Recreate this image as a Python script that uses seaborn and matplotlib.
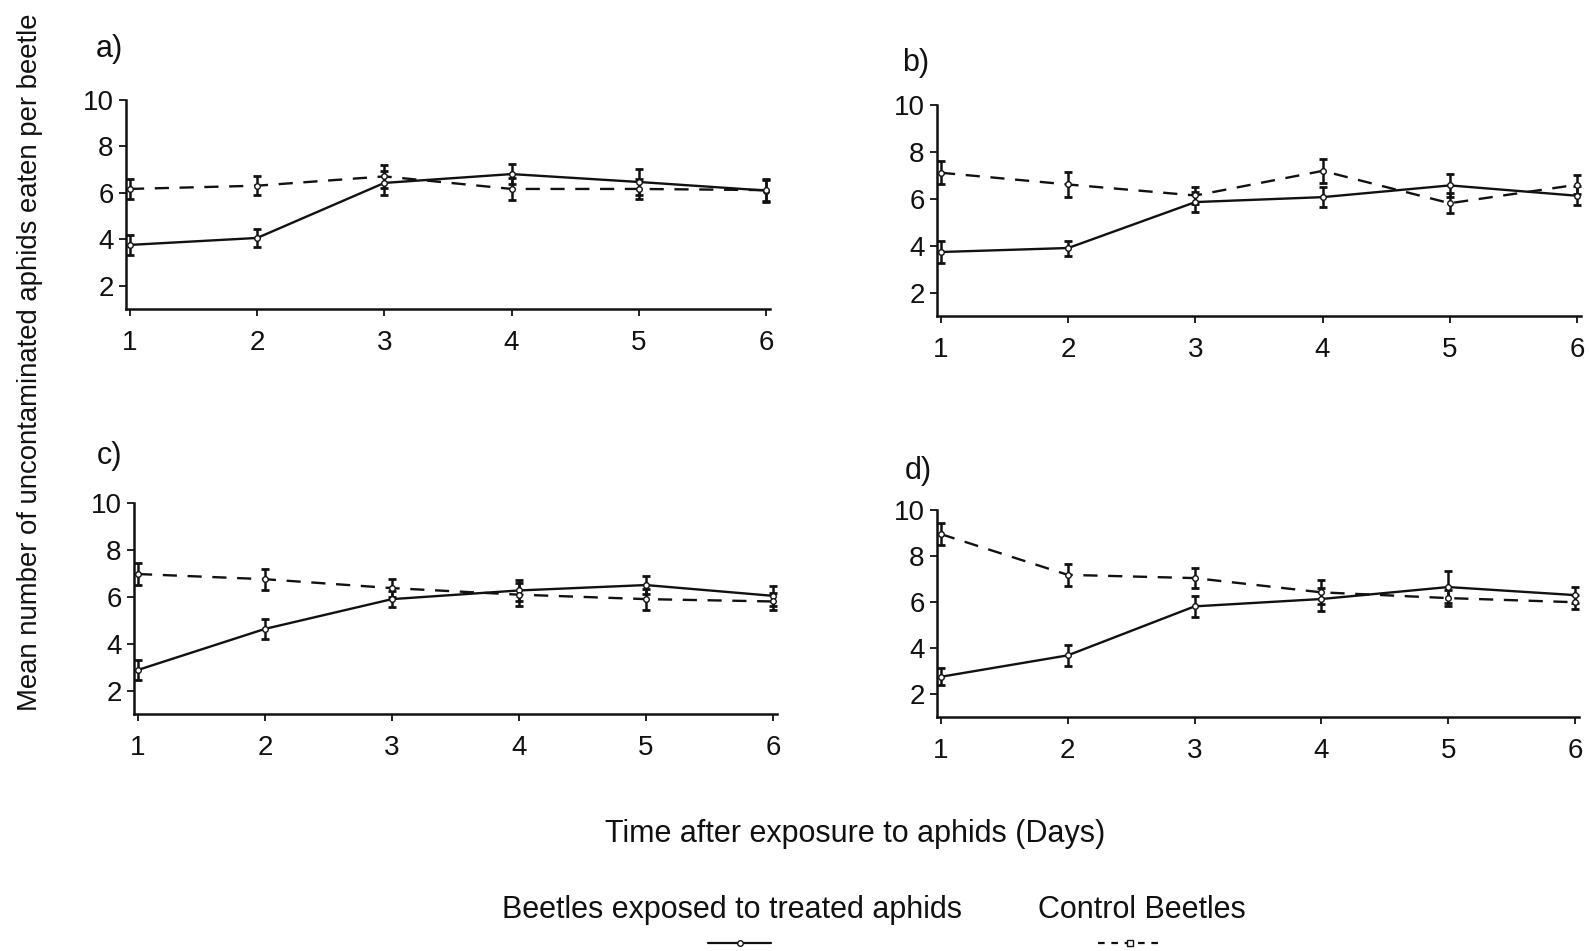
import numpy as np
import pandas as pd
import matplotlib
matplotlib.use("Agg")
import matplotlib.pyplot as plt
import seaborn as sns
from matplotlib.lines import Line2D

# ---------------- data ----------------
days = [1, 2, 3, 4, 5, 6]
panel_labels = ["a)", "b)", "c)", "d)"]
groups = ["Beetles exposed to treated aphids", "Control Beetles"]

treated_a = [3.76, 4.06, 6.43, 6.81, 6.47, 6.10]
treated_a_err = [0.42, 0.38, 0.50, 0.42, 0.55, 0.50]
control_a = [6.17, 6.31, 6.71, 6.17, 6.17, 6.12]
control_a_err = [0.42, 0.42, 0.50, 0.48, 0.43, 0.45]

treated_b = [3.73, 3.90, 5.86, 6.07, 6.57, 6.13]
treated_b_err = [0.46, 0.32, 0.43, 0.43, 0.48, 0.40]
control_b = [7.11, 6.61, 6.14, 7.19, 5.81, 6.60]
control_b_err = [0.50, 0.54, 0.35, 0.50, 0.43, 0.40]

treated_c = [2.88, 4.63, 5.90, 6.27, 6.50, 6.04]
treated_c_err = [0.43, 0.43, 0.35, 0.45, 0.40, 0.43]
control_c = [6.97, 6.75, 6.37, 6.09, 5.90, 5.80]
control_c_err = [0.45, 0.45, 0.40, 0.50, 0.45, 0.36]

treated_d = [2.75, 3.68, 5.81, 6.13, 6.65, 6.30]
treated_d_err = [0.37, 0.45, 0.45, 0.50, 0.68, 0.35]
control_d = [8.95, 7.18, 7.04, 6.42, 6.17, 5.99]
control_d_err = [0.49, 0.48, 0.43, 0.52, 0.35, 0.30]

treated_all = [treated_a, treated_b, treated_c, treated_d]
treated_err_all = [treated_a_err, treated_b_err, treated_c_err, treated_d_err]
control_all = [control_a, control_b, control_c, control_d]
control_err_all = [control_a_err, control_b_err, control_c_err, control_d_err]

x_ticks = [1, 2, 3, 4, 5, 6]
y_ticks = [2, 4, 6, 8, 10]

# ---------------- style ----------------
sns.set_theme(style="ticks")
plt.rcParams['font.family'] = ['Liberation Sans', 'DejaVu Sans']
FS_TICK = 20
FS_LAB = 22
FS_YLAB = 19.8
INK = "#111111"

W, H = 1590, 951
fig = plt.figure(figsize=(W / 100, H / 100), dpi=100)

# panel boxes in pixels: (tick1_x, tick6_x, top_y(10), bottom_y(1))
boxes = [(130, 766, 100, 309), (941, 1577, 105, 316),
         (138, 773, 503, 714), (941, 1575, 510, 717)]
label_pos = [(96, 49), (902, 63), (97, 456), (905, 471)]
xlo, xhi = 0.97, 6.03

for i, (t1, t6, top, bot) in enumerate(boxes):
    ppu = (t6 - t1) / 5.0
    left = t1 - (1 - xlo) * ppu
    width = (xhi - xlo) * ppu
    ax = fig.add_axes([left / W, 1 - bot / H, width / W, (bot - top) / H])

    df = pd.DataFrame({
        "day": days * 2,
        "value": treated_all[i] + control_all[i],
        "group": [groups[0]] * 6 + [groups[1]] * 6,
    })
    sns.lineplot(data=df, x="day", y="value", style="group",
                 dashes={groups[0]: "", groups[1]: (6, 4.5)},
                 markers={groups[0]: "o", groups[1]: "o"},
                 color=INK, linewidth=1.7, markersize=4,
                 markerfacecolor="white", markeredgecolor=INK,
                 markeredgewidth=1.0, legend=False, ax=ax, zorder=3)
    ax.errorbar(days, treated_all[i], yerr=treated_err_all[i], fmt="none",
                ecolor=INK, elinewidth=1.8, capsize=3, capthick=2, zorder=2)
    ax.errorbar(days, control_all[i], yerr=control_err_all[i], fmt="none",
                ecolor=INK, elinewidth=1.8, capsize=3, capthick=2, zorder=2)

    ax.set_xlim(xlo, xhi)
    ax.set_ylim(1, 10)
    ax.set_xticks(x_ticks)
    ax.set_yticks(y_ticks)
    ax.set_xticklabels([str(v) for v in x_ticks])
    ax.set_yticklabels([str(v) for v in y_ticks])
    ax.tick_params(axis="both", direction="out", length=5, width=1.3,
                   color=INK, labelcolor=INK, labelsize=FS_TICK)
    ax.tick_params(axis="x", pad=10)
    ax.tick_params(axis="y", pad=4)
    ax.set_xlabel("")
    ax.set_ylabel("")
    for s in ["top", "right"]:
        ax.spines[s].set_visible(False)
    for s in ["left", "bottom"]:
        ax.spines[s].set_linewidth(1.8)
        ax.spines[s].set_color(INK)
    ax.set_facecolor("none")

    lx, ly = label_pos[i]
    fig.text(lx / W, 1 - ly / H, panel_labels[i], fontsize=FS_LAB, color=INK,
             ha="left", va="center")

fig.text(30 / W, 1 - 362 / H,
         "Mean number of uncontaminated aphids eaten per beetle",
         rotation=90, ha="center", va="center", fontsize=FS_YLAB, color=INK)
fig.text(855 / W, 1 - 834 / H, "Time after exposure to aphids (Days)",
         ha="center", va="center", fontsize=FS_LAB, color=INK)

# legend
fig.text(732 / W, 1 - 910 / H, groups[0], ha="center", va="center",
         fontsize=FS_LAB, color=INK)
fig.text(1142 / W, 1 - 910 / H, groups[1], ha="center", va="center",
         fontsize=FS_LAB, color=INK)
fig.add_artist(Line2D([708 / W, 771 / W], [1 - 943 / H, 1 - 943 / H],
                      color=INK, linewidth=1.6))
fig.add_artist(Line2D([740 / W], [1 - 943 / H], marker="o", markersize=4,
                      markerfacecolor="white", markeredgecolor=INK, linestyle=""))
fig.add_artist(Line2D([1098 / W, 1161 / W], [1 - 943 / H, 1 - 943 / H],
                      color=INK, linewidth=1.6, dashes=(3, 3)))
fig.add_artist(Line2D([1130 / W], [1 - 943 / H], marker="s", markersize=4,
                      markerfacecolor="white", markeredgecolor=INK, linestyle=""))

fig.savefig("out.png", dpi=100, facecolor="white")
